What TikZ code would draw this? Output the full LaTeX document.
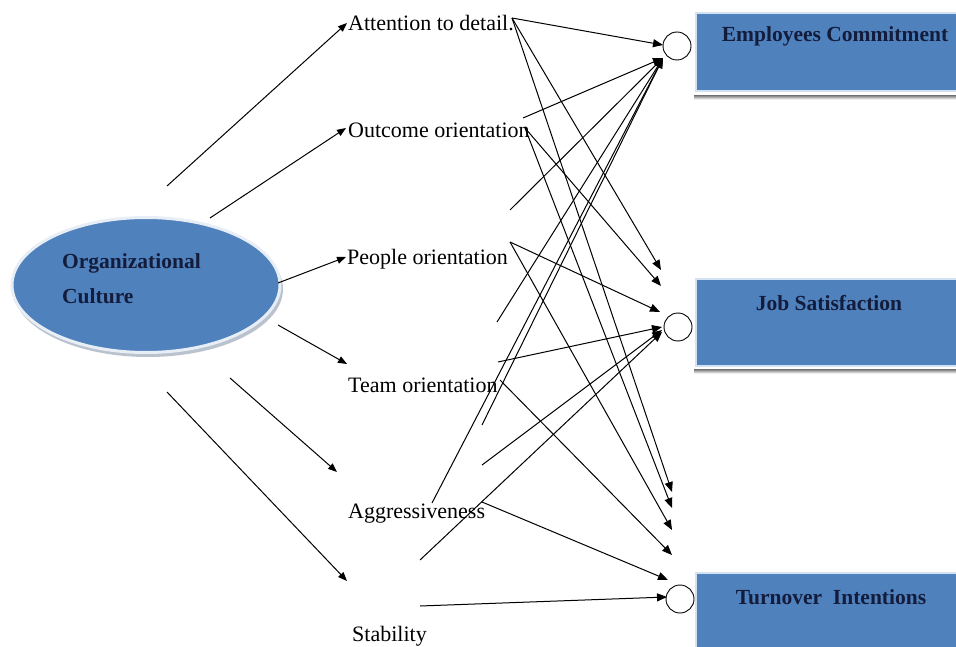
\documentclass[tikz,border=0pt]{standalone}
\usepackage{fontspec}
\setmainfont{Liberation Serif}
\usetikzlibrary{arrows.meta,shapes.geometric}
\definecolor{obox}{HTML}{4F81BD}
\definecolor{navy}{HTML}{141C3C}
\definecolor{shade}{HTML}{8C9AAE}
\definecolor{rim}{HTML}{D2E2F2}
\definecolor{erim}{HTML}{E8EEF6}
\tikzset{
  conn/.style={line width=1pt, -{Triangle[length=10pt,width=8pt]}},
  lconn/.style={line width=1pt, -{Triangle[length=9pt,width=7pt]}},
  lab/.style={font=\fontsize{22}{26}\selectfont, anchor=base west, inner sep=0pt},
  boxlab/.style={font=\fontsize{21.5}{24}\selectfont\bfseries, text=navy, inner sep=0pt},
  boxsty/.style={rectangle, fill=obox, draw=rim, line width=1.6pt, anchor=north west, minimum width=275, inner sep=0pt},
  ring/.style={circle, draw, line width=0.9pt, fill=white, minimum size=28pt, inner sep=0pt}
}
\begin{document}
\begin{tikzpicture}[x=1pt,y=-1pt]
\clip (0,0) rectangle (956,647);
\fill[white] (0,0) rectangle (956,647);

% outcome boxes
\fill[shade] (694,95.5) rectangle (960,99.5);
\node[boxsty, minimum height=78pt] (ecbox) at (695,12) {};
\fill[shade] (694,369.5) rectangle (960,373.5);
\node[boxsty, minimum height=87pt] (jsbox) at (695,278) {};
\node[boxsty, minimum height=90pt] (tibox) at (695,572) {};
\node[boxlab] (ectext) at (835,36) {Employees Commitment};
\node[boxlab] (jstext) at (829,303) {Job Satisfaction};
\node[boxlab] (titext) at (831,597) {Turnover\ \ Intentions};

% small circles
\node[ring] (ec) at (677,46) {};
\node[ring] (js) at (678,327) {};
\node[ring] (ti) at (680,599) {};

% central ellipse
\fill[shade!60] (148,289) ellipse (135 and 68);
\node[ellipse, fill=obox, draw=erim, line width=3pt, minimum width=268pt, minimum height=135pt, inner sep=0pt] (oc) at (146,285) {};
\node[boxlab, anchor=base west] (octext1) at (62,268.5) {Organizational};
\node[boxlab, anchor=base west] (octext2) at (62,303.5) {Culture};

% factor labels
\node[lab] (att) at (348,31) {Attention to detail.};
\node[lab] (out) at (348,138) {Outcome orientation};
\node[lab] (peo) at (347,265) {People orientation};
\node[lab] (tea) at (348,392) {Team orientation};
\node[lab] (agg) at (348,518) {Aggressiveness};
\node[lab] (sta) at (352,641) {Stability};

% left connectors
\coordinate (l1s) at (167,186); \coordinate (l1e) at (347,23);
\coordinate (l2s) at (210,218); \coordinate (l2e) at (346,128);
\coordinate (l3s) at (278,283); \coordinate (l3e) at (346,257);
\coordinate (l4s) at (278,325); \coordinate (l4e) at (347,364);
\coordinate (l5s) at (230,378); \coordinate (l5e) at (337,472);
\coordinate (l6s) at (167,392); \coordinate (l6e) at (347,581);
\foreach \i in {1,...,6} { \draw[lconn] (l\i s) -- (l\i e); }

% tips near circles
\coordinate (ecA) at (663,45);
\coordinate (ecB) at (663,58);
\coordinate (jsA) at (661,270);
\coordinate (jsB) at (661,286);
\coordinate (jsC) at (660,312);
\coordinate (jsD) at (662,327);
\coordinate (jsE) at (662,330);
\coordinate (jsF) at (662,332);
\coordinate (tiA) at (672,492);
\coordinate (tiB) at (672,508);
\coordinate (tiC) at (672,530);
\coordinate (tiD) at (672,555);
\coordinate (tiE) at (668,580);
\coordinate (tiF) at (667,597);

% sources
\coordinate (a0) at (512,18);
\coordinate (o0) at (523,118); \coordinate (o1) at (525,128);
\coordinate (p0) at (510,210); \coordinate (p1) at (510,242);
\coordinate (t0) at (497,322); \coordinate (t1) at (498,362); \coordinate (t2) at (500,380);
\coordinate (g0) at (482,425); \coordinate (g1) at (482,465); \coordinate (g2) at (482,502);
\coordinate (s0) at (432,503); \coordinate (s1) at (420,560); \coordinate (s2) at (420,606);

% to Employees Commitment
\draw[conn] (a0) -- (ecA);
\draw[conn] (o0) -- (ecB);
\draw[conn] (p0) -- (ecB);
\draw[conn] (t0) -- (ecB);
\draw[conn] (g0) -- (ecB);
\draw[conn] (s0) -- (ecB);
% to Job Satisfaction
\draw[conn] (a0) -- (jsA);
\draw[conn] (o1) -- (jsB);
\draw[conn] (p1) -- (jsC);
\draw[conn] (t1) -- (jsD);
\draw[conn] (g1) -- (jsE);
\draw[conn] (s1) -- (jsF);
% to Turnover Intentions
\draw[conn] (a0) -- (tiA);
\draw[conn] (o1) -- (tiB);
\draw[conn] (p1) -- (tiC);
\draw[conn] (t2) -- (tiD);
\draw[conn] (g2) -- (tiE);
\draw[conn] (s2) -- (tiF);
\end{tikzpicture}
\end{document}
